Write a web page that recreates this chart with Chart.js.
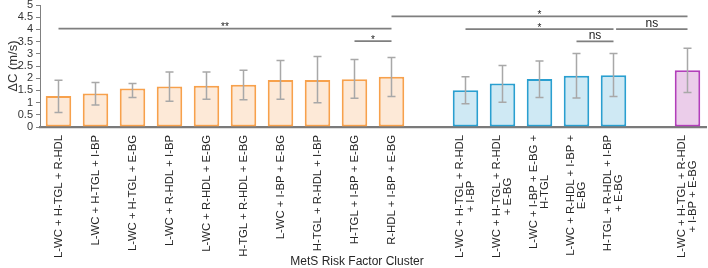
<!DOCTYPE html>
<html><head><meta charset="utf-8">
<script src="https://cdn.jsdelivr.net/npm/chart.js@4/dist/chart.umd.min.js"></script>
<style>html,body{margin:0;padding:0;background:#fff}#wrap{width:708px;height:268px;position:relative}</style>
</head><body><div id="wrap"><canvas id="c"></canvas></div>
<script>
// ---- data ----
const orangeLabels = [
  ['L-WC + H-TGL + R-HDL'], ['L-WC + H-TGL + I-BP'], ['L-WC + H-TGL + E-BG'],
  ['L-WC + R-HDL + I-BP'], ['L-WC + R-HDL + E-BG'], ['H-TGL + R-HDL + E-BG'],
  ['L-WC + I-BP + E-BG'], ['H-TGL + R-HDL + I-BP'], ['H-TGL + I-BP + E-BG'],
  ['R-HDL + I-BP + E-BG']
];
const blueLabels = [
  ['L-WC + H-TGL + R-HDL', '+ I-BP'], ['L-WC + H-TGL + R-HDL', '+ E-BG'],
  ['L-WC + I-BP + E-BG +', 'H-TGL'], ['L-WC + R-HDL + I-BP +', 'E-BG'],
  ['H-TGL + R-HDL + I-BP', '+ E-BG']
];
const purpleLabels = [['L-WC + H-TGL + R-HDL', '+ I-BP + E-BG']];

const orangeMeans = [1.27, 1.37, 1.58, 1.66, 1.69, 1.73, 1.93, 1.93, 1.96, 2.06];
const orangeUpper = [1.92, 1.82, 1.78, 2.25, 2.25, 2.33, 2.73, 2.89, 2.77, 2.85];
const orangeLower = [0.59, 0.90, 1.21, 1.06, 1.14, 1.12, 1.14, 0.99, 1.18, 1.25];

const blueMeans = [1.51, 1.78, 1.97, 2.10, 2.12];
const blueUpper = [2.06, 2.52, 2.71, 3.01, 3.01];
const blueLower = [0.95, 1.01, 1.21, 1.19, 1.25];

const purpleMeans = [2.33];
const purpleUpper = [3.23];
const purpleLower = [1.41];

const yTicks = [0, 0.5, 1, 1.5, 2, 2.5, 3, 3.5, 4, 4.5, 5];
const yTitle = 'ΔC (m/s)';
const xTitle = 'MetS Risk Factor Cluster';

// significance brackets: category index from/to, level, text
const sigFrom  = [0, 8, 9, 11, 14, 15.07];
const sigTo    = [9, 9, 17, 15, 15, 17];
const sigLevel = [4.03, 3.52, 4.535, 4.01, 3.51, 4.01];
const sigText  = ['**', '*', '*', '*', 'ns', 'ns'];

// ---- build ----
const labels = [...orangeLabels, [''], ...blueLabels, [''], ...purpleLabels];
const means = [...orangeMeans, null, ...blueMeans, null, ...purpleMeans];
const upper = [...orangeUpper, null, ...blueUpper, null, ...purpleUpper];
const lower = [...orangeLower, null, ...blueLower, null, ...purpleLower];
const group = [...orangeMeans.map(() => 0), -1, ...blueMeans.map(() => 1), -1, ...purpleMeans.map(() => 2)];
const fills = ['#fde9d7', '#cfe9f4', '#ebcdea'];
const borders = ['#f7a14c', '#2a9fd0', '#b23fba'];

const FONT = 'Liberation Sans, Arial, sans-serif';

const extras = {
  id: 'extras',
  afterDatasetsDraw(chart) {
    const ctx = chart.ctx;
    const y = chart.scales.y, x = chart.scales.x;
    const meta = chart.getDatasetMeta(0);
    ctx.save();
    // error bars
    ctx.strokeStyle = '#a8a8a8';
    ctx.lineWidth = 1.5;
    meta.data.forEach((el, i) => {
      if (means[i] == null) return;
      const cx = el.x, yt = y.getPixelForValue(upper[i]), yb = y.getPixelForValue(lower[i]);
      ctx.beginPath();
      ctx.moveTo(cx, yt); ctx.lineTo(cx, yb);
      ctx.moveTo(cx - 4, yt); ctx.lineTo(cx + 4, yt);
      ctx.moveTo(cx - 4, yb); ctx.lineTo(cx + 4, yb);
      ctx.stroke();
    });
    // significance lines
    ctx.strokeStyle = '#7f7f7f';
    ctx.fillStyle = '#222';
    ctx.lineWidth = 1.8;
    ctx.textAlign = 'center';
    ctx.textBaseline = 'alphabetic';
    sigFrom.forEach((f, k) => {
      const x1 = x.getPixelForValue(f), x2 = x.getPixelForValue(sigTo[k]);
      const ly = y.getPixelForValue(sigLevel[k]);
      ctx.beginPath(); ctx.moveTo(x1, ly); ctx.lineTo(x2, ly); ctx.stroke();
      const t = sigText[k];
      if (t === 'ns') { ctx.font = '12px ' + FONT; ctx.fillText(t, (x1 + x2) / 2, ly - 2.3); }
      else { ctx.font = '10px ' + FONT; ctx.fillText(t, (x1 + x2) / 2, ly + 1.5); }
    });
    ctx.restore();
  },
  afterDraw(chart) {
    const ctx = chart.ctx;
    const x = chart.scales.x;
    const area = chart.chartArea;
    ctx.save();
    ctx.fillStyle = '#262626';
    ctx.font = '11.3px ' + FONT;
    ctx.textAlign = 'center';
    ctx.textBaseline = 'middle';
    const lh = 11.7;
    labels.forEach((lines, i) => {
      if (!lines[0]) return;
      const cx = x.getPixelForValue(i);
      const maxW = Math.max(...lines.map(l => ctx.measureText(l).width));
      ctx.save();
      ctx.translate(cx, area.bottom + 8 + maxW / 2);
      ctx.rotate(-Math.PI / 2);
      lines.forEach((l, j) => ctx.fillText(l, 0, (j - (lines.length - 1) / 2) * lh));
      ctx.restore();
    });
    ctx.font = '12px ' + FONT;
    ctx.fillText(xTitle, (area.left + area.right) / 2 - 16, 262);
    ctx.restore();
  }
};

new Chart(document.getElementById('c'), {
  type: 'bar',
  data: {
    labels: labels.map(l => l.join(' ')),
    datasets: [{
      data: means,
      backgroundColor: group.map(g => g < 0 ? 'transparent' : fills[g]),
      borderColor: group.map(g => g < 0 ? 'transparent' : borders[g]),
      borderWidth: 2,
      borderSkipped: false,
      barPercentage: 0.69,
      categoryPercentage: 1
    }]
  },
  options: {
    responsive: true,
    maintainAspectRatio: false,
    animation: false,
    layout: { padding: { top: 5, right: 2, left: 0, bottom: 0 } },
    plugins: { legend: { display: false }, tooltip: { enabled: false } },
    scales: {
      x: {
        grid: { display: false, drawTicks: false },
        border: { color: '#7a7a7a', width: 2.2 },
        ticks: { display: false },
        afterFit(s) { s.height = 141; s.paddingLeft = 0; s.paddingRight = 0; }
      },
      y: {
        min: 0, max: 5,
        afterBuildTicks(s) { s.ticks = yTicks.map(v => ({ value: v })); },
        ticks: { font: { size: 11, family: FONT }, color: '#333', padding: 3, autoSkip: false, callback: v => String(v) },
        grid: { drawOnChartArea: false, drawTicks: true, tickLength: 4, color: '#808080' },
        border: { color: '#808080', width: 1 },
        title: { display: true, text: yTitle, font: { size: 13, family: FONT }, color: '#333', padding: { top: 6, bottom: 0 } },
        afterFit(s) { s.width = 40; s.paddingTop = 0; s.paddingBottom = 0; }
      }
    }
  },
  plugins: [extras]
});
</script>
</body></html>
